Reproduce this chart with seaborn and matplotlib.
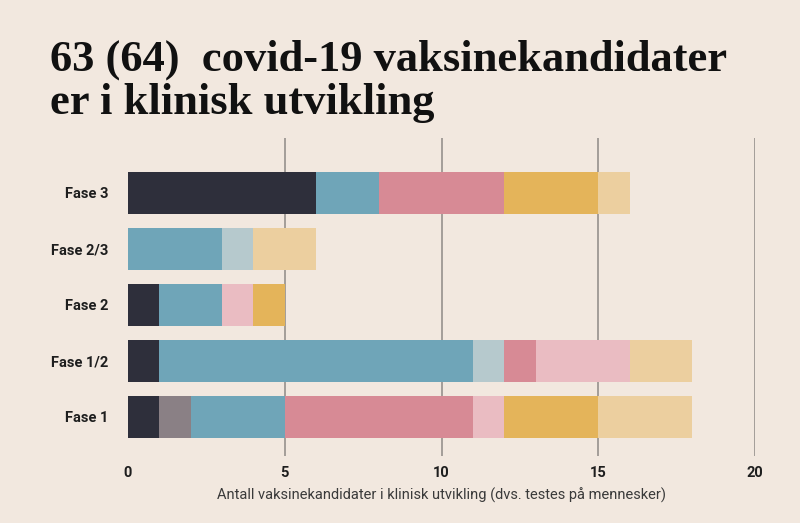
import matplotlib
matplotlib.use("Agg")
import matplotlib.pyplot as plt
import seaborn as sns
import numpy as np
import pandas as pd

phases = ["Fase 3", "Fase 2/3", "Fase 2", "Fase 1/2", "Fase 1"]
series_names = ["s1", "s2", "s3", "s4", "s5", "s6", "s7", "s8"]
s1 = [6, 0, 1, 1, 1]
s2 = [0, 0, 0, 0, 1]
s3 = [2, 3, 2, 10, 3]
s4 = [0, 1, 0, 1, 0]
s5 = [4, 0, 0, 1, 6]
s6 = [0, 0, 1, 3, 1]
s7 = [3, 0, 1, 0, 3]
s8 = [1, 2, 0, 2, 3]
series_values = [s1, s2, s3, s4, s5, s6, s7, s8]
colors = ["#2e2f3b", "#8a8085", "#6fa5b8", "#b6c9cd", "#d78a95", "#eabcc2", "#e4b45a", "#eccf9f"]
xticks = [0, 5, 10, 15, 20]

title = "63 (64)  covid-19 vaksinekandidater\ner i klinisk utvikling"
xlabel = "Antall vaksinekandidater i klinisk utvikling (dvs. testes på mennesker)"

bg = "#f2e8df"
sns.set_theme(style="white")
plt.rcParams["font.family"] = ["Roboto", "DejaVu Sans"]

fig = plt.figure(figsize=(8.0, 5.23), dpi=100)
fig.patch.set_facecolor(bg)
ax = fig.add_axes([0.16, 0.128, 0.944 - 0.16, 0.736 - 0.128])
ax.set_facecolor(bg)

cum = np.cumsum(np.array(series_values), axis=0)
for i in range(len(series_names) - 1, -1, -1):
    df = pd.DataFrame({"phase": phases, "value": cum[i]})
    sns.barplot(data=df, x="value", y="phase", order=phases, color=colors[i],
                orient="h", width=0.74, saturation=1, ax=ax, linewidth=0)

ax.set_xlim(0, 20)
ax.set_ylim(4.7, -0.98)
ax.set_xticks(xticks)
ax.set_xticklabels([str(t) for t in xticks], fontsize=10.5, fontweight="bold", color="#1e1e1e")
ax.set_yticks(range(len(phases)))
ax.set_yticklabels(phases, fontsize=10.5, fontweight="bold", color="#1e1e1e")
ax.tick_params(axis="x", length=0, pad=7)
ax.tick_params(axis="y", length=0, pad=14)
for x in xticks[1:]:
    ax.axvline(x, color="#8e8a86", linewidth=1.1, zorder=0)
for s in ax.spines.values():
    s.set_visible(False)
ax.set_ylabel("")
ax.set_xlabel(xlabel, fontsize=10.5, color="#3a3a3a", labelpad=6)

fig.text(0.0625, 0.925, title, fontsize=32, fontweight="bold",
         family=["Liberation Serif", "DejaVu Serif"], color="#111111",
         va="top", ha="left", linespacing=1.12)

fig.savefig("out.png", dpi=100, facecolor=bg)
